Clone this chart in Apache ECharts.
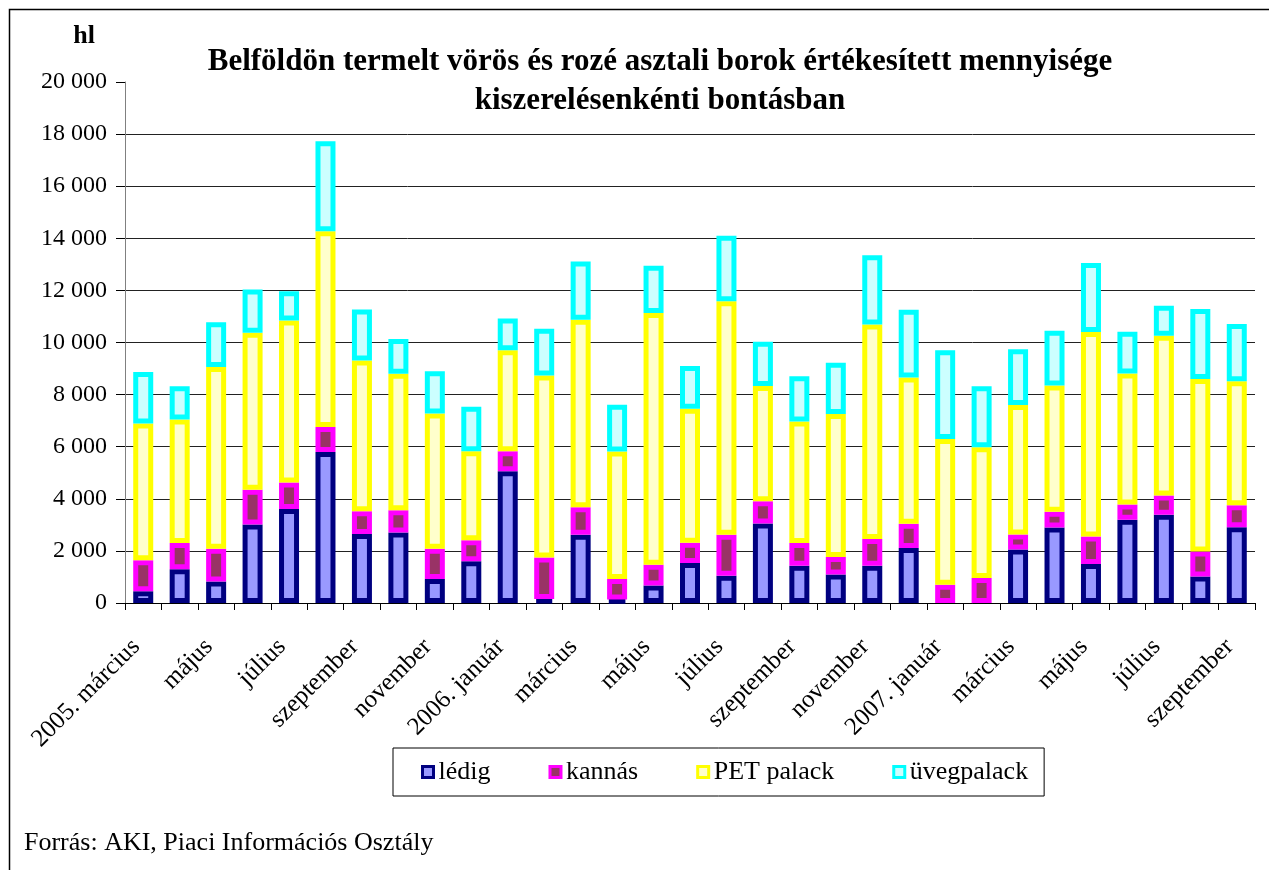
<!DOCTYPE html>
<html>
<head>
<meta charset="utf-8">
<script src="https://cdn.jsdelivr.net/npm/echarts@6/dist/echarts.min.js"></script>
<style>
html,body{margin:0;padding:0;background:#fff;}
#chart{width:1269px;height:870px;}
</style>
</head>
<body>
<div id="chart"></div>
<script>
// Categories: months from 2005 March to 2007 September
const categories = [
  "2005. március","2005. április","2005. május","2005. június","2005. július","2005. augusztus",
  "2005. szeptember","2005. október","2005. november","2005. december",
  "2006. január","2006. február","2006. március","2006. április","2006. május","2006. június",
  "2006. július","2006. augusztus","2006. szeptember","2006. október","2006. november","2006. december",
  "2007. január","2007. február","2007. március","2007. április","2007. május","2007. június",
  "2007. július","2007. augusztus","2007. szeptember"
];
const seriesNames = ["lédig", "kannás", "PET palack", "üvegpalack"];
// Values in hl
const ledig  = [450,1300,830,3010,3610,5800,2650,2710,920,1600,5060,150,2620,130,670,1540,1050,3050,1430,1090,1430,2110,0,0,2050,2900,1500,3200,3390,1020,2910];
const kannas = [1190,1000,1250,1340,1020,960,870,850,1160,810,770,1600,1060,790,800,770,1570,860,870,680,1030,930,700,960,580,600,1050,580,740,960,840];
const pet    = [5250,4740,6980,6020,6210,7510,5790,5240,5190,3420,3870,6980,7190,4900,9660,5150,8960,4420,4670,5490,8230,5620,5600,5020,4970,4850,7850,5030,6130,6620,4760];
const uveg   = [1980,1280,1720,1660,1130,3460,1960,1330,1630,1700,1220,1800,2240,1790,1820,1640,2520,1700,1730,1960,2660,2600,3400,2340,2140,2100,2650,1600,1150,2690,2200];
const yTicks = [0,2000,4000,6000,8000,10000,12000,14000,16000,18000,20000];

const fills   = ["#9999FF", "#993366", "#FFFFCC", "#CCFFFF"];
const borders = ["#000080", "#FF00FF", "#FFFF00", "#00FFFF"];
const values  = [ledig, kannas, pet, uveg];

const FONT = "'Liberation Serif','Times New Roman',serif";

function fmtNum(v){
  return String(v).replace(/\B(?=(\d{3})+(?!\d))/g, " ");
}

const series = seriesNames.map((name, i) => ({
  name: name,
  type: 'bar',
  stack: 'total',
  barWidth: 20,
  itemStyle: { color: fills[i], borderColor: borders[i], borderWidth: 5 },
  emphasis: { disabled: true },
  data: values[i].map(v => v === 0 ? { value: 0, itemStyle: { borderWidth: 0 } } : v)
}));

const chart = echarts.init(document.getElementById('chart'), null, { renderer: 'canvas' });
chart.setOption({
  backgroundColor: '#ffffff',
  animation: false,
  title: {
    text: 'Belföldön termelt vörös és rozé asztali borok értékesített mennyisége\nkiszerelésenkénti bontásban',
    left: 655,
    top: 37,
    textAlign: 'center',
    textStyle: { fontFamily: FONT, fontWeight: 'bold', fontSize: 31, lineHeight: 39, color: '#000' }
  },
  legend: {
    left: 393,
    top: 748,
    padding: [11, 16, 11, 28],
    itemGap: 58,
    itemWidth: 11,
    itemHeight: 11,
    borderColor: '#000',
    borderWidth: 1,
    icon: 'rect',
    itemStyle: { borderWidth: 3 },
    textStyle: { fontFamily: FONT, fontSize: 26, color: '#000' },
    data: seriesNames
  },
  grid: { left: 125, right: 14, top: 82, bottom: 267, containLabel: false },
  xAxis: {
    type: 'category',
    data: categories,
    boundaryGap: true,
    axisLine: { lineStyle: { color: '#000', width: 1 } },
    axisTick: { show: true, interval: 0, length: 7, lineStyle: { color: '#000' } },
    axisLabel: {
      interval: 1,
      rotate: 45,
      margin: 33,
      padding: [0, 10, 0, 0],
      fontFamily: FONT,
      fontSize: 25,
      color: '#000',
      formatter: function (val, idx) {
        const parts = val.split('. ');
        if (idx === 0 || parts[1] === 'január') return val;
        return parts[1];
      }
    },
    splitLine: { show: false }
  },
  yAxis: {
    type: 'value',
    min: yTicks[0],
    max: yTicks[yTicks.length - 1],
    interval: yTicks[1] - yTicks[0],
    name: 'hl',
    nameLocation: 'end',
    nameGap: 33,
    nameTextStyle: { fontFamily: FONT, fontWeight: 'bold', fontSize: 26, color: '#000', align: 'right', padding: [0, 30, 0, 0] },
    axisLine: { show: true, lineStyle: { color: '#808080', width: 1 } },
    axisTick: { show: true, length: 9, lineStyle: { color: '#000' } },
    axisLabel: {
      margin: 18,
      fontFamily: FONT,
      fontSize: 24,
      color: '#000',
      formatter: v => fmtNum(v)
    },
    splitLine: { show: true, showMaxLine: false, lineStyle: { color: '#222', width: 1 } }
  },
  graphic: [
    {
      type: 'rect',
      shape: { x: 9.5, y: 9.5, width: 1400, height: 1000 },
      style: { fill: 'none', stroke: '#000', lineWidth: 1.5 },
      silent: true
    },
    {
      type: 'text',
      left: 24,
      top: 830,
      style: { text: 'Forrás: AKI, Piaci Információs Osztály', font: "26px 'Liberation Serif','Times New Roman',serif", fill: '#000' },
      silent: true
    }
  ],
  series: series
});
</script>
</body>
</html>
